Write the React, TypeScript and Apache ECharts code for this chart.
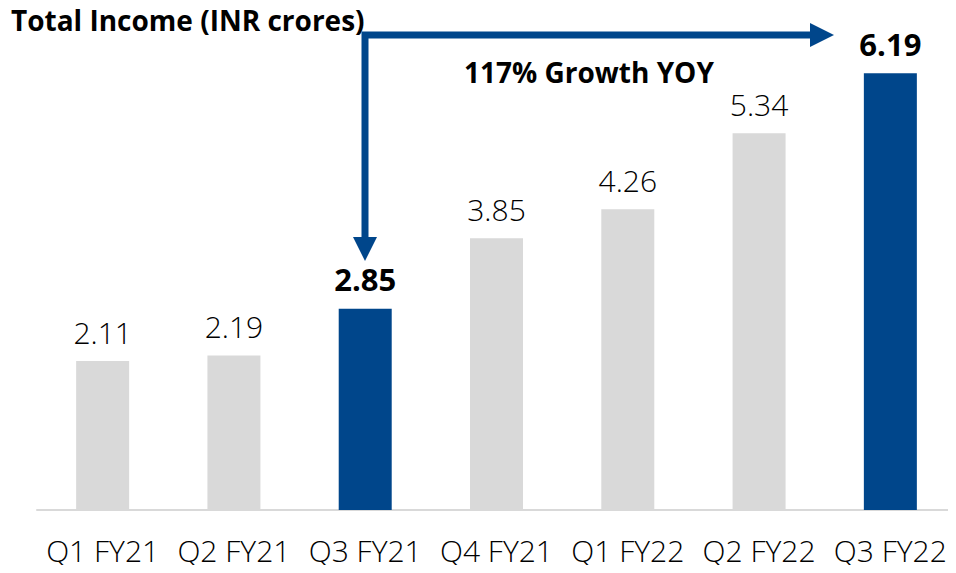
import React, { useEffect, useRef } from "react";
import * as echarts from "echarts";

const categories = ["Q1 FY21", "Q2 FY21", "Q3 FY21", "Q4 FY21", "Q1 FY22", "Q2 FY22", "Q3 FY22"];
const values = [2.11, 2.19, 2.85, 3.85, 4.26, 5.34, 6.19];
const highlighted = [false, false, true, false, false, false, true];
const titleText = "Total Income (INR crores)";
const growthText = "117% Growth YOY";

const BLUE = "#00468b";
const GRAY = "#d9d9d9";
const FONT = "'Open Sans', 'Noto Sans', sans-serif";

export default function App() {
  const ref = useRef<HTMLDivElement>(null);
  useEffect(() => {
    if (!ref.current) return;
    const chart = echarts.init(ref.current, null, { renderer: "svg" });
    chart.setOption({
      animation: false,
      grid: { left: 37, top: 16, width: 924, height: 494, containLabel: false },
      xAxis: {
        type: "category",
        data: categories,
        axisLine: { lineStyle: { color: GRAY, width: 2 } },
        axisTick: { show: false },
        axisLabel: {
          color: "#000",
          fontFamily: FONT,
          fontSize: 30,
          lineHeight: 32,
          fontWeight: 300,
          margin: 24,
          interval: 0,
        },
      },
      yAxis: { type: "value", min: 0, max: 7, show: false, splitLine: { show: false } },
      series: [
        {
          type: "bar",
          barWidth: 53,
          data: values.map((v, i) => ({
            value: v,
            itemStyle: { color: highlighted[i] ? BLUE : GRAY },
            label: highlighted[i]
              ? { fontWeight: "bold", fontSize: 31, color: "#000" }
              : { fontWeight: 300, fontSize: 30, color: "#000" },
          })),
          label: {
            show: true,
            position: "top",
            distance: 14,
            fontFamily: FONT,
            formatter: (p: any) => p.value.toFixed(2),
          },
        },
      ],
      graphic: [
        {
          type: "text",
          left: 11,
          top: 6,
          style: { text: titleText, fontFamily: FONT, fontSize: 28, lineHeight: 28, fontWeight: "bold", fill: "#000" },
        },
        {
          type: "text",
          left: 464,
          top: 58,
          style: { text: growthText, fontFamily: FONT, fontSize: 28, lineHeight: 28, fontWeight: "bold", fill: "#000" },
        },
        {
          type: "polyline",
          shape: { points: [[365, 239], [365, 35], [812, 35]] },
          style: { stroke: BLUE, lineWidth: 7, fill: null, lineJoin: "miter" },
        },
        {
          type: "polygon",
          shape: { points: [[810, 23], [834, 35], [810, 47]] },
          style: { fill: BLUE },
        },
        {
          type: "polygon",
          shape: { points: [[353, 237], [377, 237], [365, 261]] },
          style: { fill: BLUE },
        },
      ],
    });
    return () => chart.dispose();
  }, []);
  return <div ref={ref} style={{ width: 956, height: 573, margin: -8 }} />;
}
